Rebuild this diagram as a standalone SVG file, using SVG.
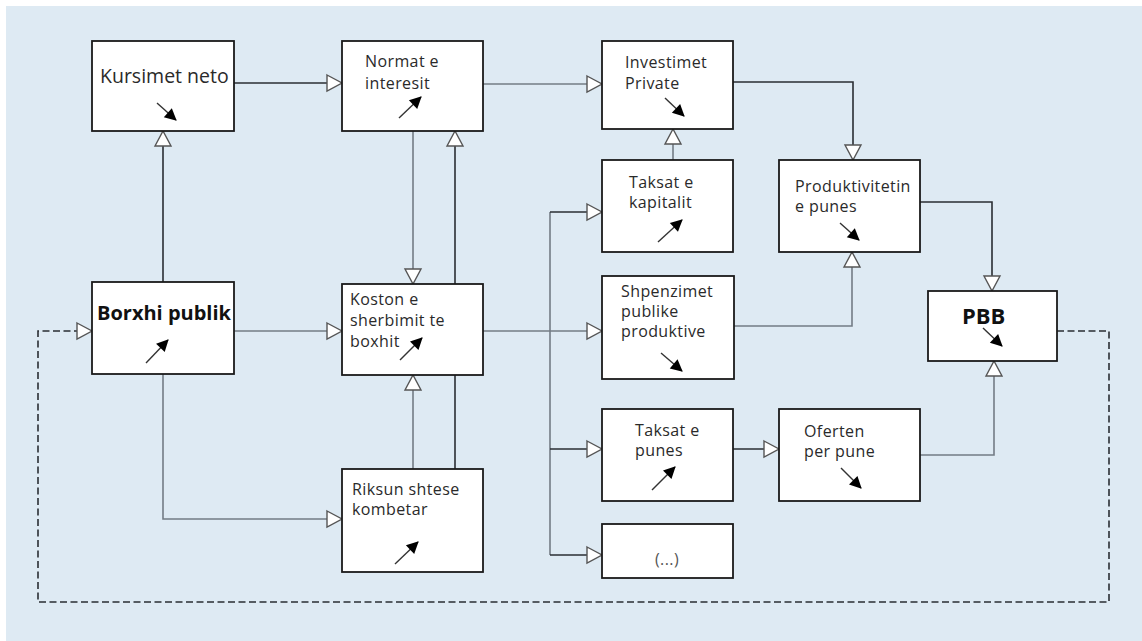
<svg xmlns="http://www.w3.org/2000/svg" width="1142" height="641" viewBox="0 0 1142 641">
<style>
.box{fill:#fff;stroke:#1a1a1a;stroke-width:1.8}
.t{font-family:"Open Sans","Noto Sans",sans-serif;font-size:16px;letter-spacing:0.4px;fill:#2a2a2a}
.tb{font-family:"Open Sans","Noto Sans",sans-serif;font-weight:bold;fill:#111}
.c{fill:none;stroke-width:1.6}
.dk{stroke:#2a2e33}
.gr{stroke:#737c85}
.dash{stroke:#2a2e33;stroke-dasharray:7 3.5}
.tr{stroke:#333;stroke-width:1.4;fill:none;marker-end:url(#tri)}
</style>
<defs>
<marker id="hol" markerUnits="userSpaceOnUse" markerWidth="18" markerHeight="20" refX="16" refY="9" orient="auto" overflow="visible">
<path d="M1,1 L16,9 L1,17 Z" fill="#fff" stroke="#555" stroke-width="1.4"/>
</marker>
<marker id="tri" markerUnits="userSpaceOnUse" markerWidth="14" markerHeight="14" refX="11" refY="6" orient="auto" overflow="visible">
<path d="M0,0 L12,6 L0,12 Z" fill="#000"/>
</marker>
</defs>
<rect x="0" y="0" width="1142" height="641" fill="#fff"/>
<rect x="6" y="6" width="1136" height="635" fill="#deeaf3"/>
<g id="connectors">
<path class="c dk" d="M234,83 H342" marker-end="url(#hol)"/>
<path class="c gr" d="M483,84 H602" marker-end="url(#hol)"/>
<path class="c dk" d="M733,82 H853 V160" marker-end="url(#hol)"/>
<path class="c gr" d="M673,160 V129" marker-end="url(#hol)"/>
<path class="c dk" d="M163,282 V131" marker-end="url(#hol)"/>
<path class="c gr" d="M234,331 H342" marker-end="url(#hol)"/>
<path class="c gr" d="M163,374 V519 H342" marker-end="url(#hol)"/>
<path class="c gr" d="M413,131 V284" marker-end="url(#hol)"/>
<path class="c dk" d="M455,469 V131" marker-end="url(#hol)"/>
<path class="c gr" d="M413,469 V375" marker-end="url(#hol)"/>
<path class="c gr" d="M483,331 H602" marker-end="url(#hol)"/>
<path class="c gr" d="M550,212 V555"/>
<path class="c dk" d="M550,212 H602" marker-end="url(#hol)"/>
<path class="c dk" d="M550,449 H602" marker-end="url(#hol)"/>
<path class="c dk" d="M550,555 H602" marker-end="url(#hol)"/>
<path class="c gr" d="M734,326 H852 V252" marker-end="url(#hol)"/>
<path class="c dk" d="M920,202 H992 V291" marker-end="url(#hol)"/>
<path class="c dk" d="M733,449 H779" marker-end="url(#hol)"/>
<path class="c gr" d="M920,455 H994 V361" marker-end="url(#hol)"/>
<path class="c dash" d="M1057,331 H1109 V602 H38 V331 H92" marker-end="url(#hol)"/>
</g>
<g id="kursimet">
<rect class="box" x="92" y="41" width="142" height="90"/>
<text class="t" x="100" y="83" style="font-size:19.5px;letter-spacing:0">Kursimet neto</text>
<path class="tr" d="M157,103 L176,120"/>
</g>
<g id="normat">
<rect class="box" x="342" y="41" width="141" height="90"/>
<text class="t" x="365" y="67">Normat e</text>
<text class="t" x="365" y="89">interesit</text>
<path class="tr" d="M399,118 L421,97"/>
</g>
<g id="investimet">
<rect class="box" x="602" y="41" width="131" height="88"/>
<text class="t" x="625" y="68">Investimet</text>
<text class="t" x="625" y="89">Private</text>
<path class="tr" d="M665,98 L684,116"/>
</g>
<g id="taksat-kapitalit">
<rect class="box" x="602" y="160" width="131" height="92"/>
<text class="t" x="629" y="188">Taksat e</text>
<text class="t" x="629" y="208">kapitalit</text>
<path class="tr" d="M658,242 L682,220"/>
</g>
<g id="produktivitetin">
<rect class="box" x="779" y="160" width="141" height="92"/>
<text class="t" x="795" y="192">Produktivitetin</text>
<text class="t" x="795" y="212">e punes</text>
<path class="tr" d="M840,223 L859,240"/>
</g>
<g id="borxhi">
<rect class="box" x="92" y="282" width="142" height="92"/>
<text class="tb" x="97" y="320" style="font-size:20px">Borxhi publik</text>
<path class="tr" d="M146,363 L168,340"/>
</g>
<g id="koston">
<rect class="box" x="342" y="284" width="141" height="91"/>
<text class="t" x="350" y="305">Koston e</text>
<text class="t" x="350" y="326">sherbimit te</text>
<text class="t" x="350" y="347">boxhit</text>
<path class="tr" d="M400,360 L422,338"/>
</g>
<g id="shpenzimet">
<rect class="box" x="602" y="276" width="132" height="103"/>
<text class="t" x="621" y="297">Shpenzimet</text>
<text class="t" x="621" y="317">publike</text>
<text class="t" x="621" y="337">produktive</text>
<path class="tr" d="M661,353 L682,371"/>
</g>
<g id="pbb">
<rect class="box" x="928" y="291" width="129" height="70"/>
<text class="tb" x="962" y="324" style="font-size:22px">PBB</text>
<path class="tr" d="M983,328 L1002,346"/>
</g>
<g id="riksun">
<rect class="box" x="342" y="469" width="141" height="103"/>
<text class="t" x="352" y="495">Riksun shtese</text>
<text class="t" x="352" y="515">kombetar</text>
<path class="tr" d="M395,564 L418,542"/>
</g>
<g id="taksat-punes">
<rect class="box" x="602" y="409" width="131" height="92"/>
<text class="t" x="635" y="436">Taksat e</text>
<text class="t" x="635" y="456">punes</text>
<path class="tr" d="M652,490 L675,467"/>
</g>
<g id="oferten">
<rect class="box" x="779" y="409" width="141" height="92"/>
<text class="t" x="804" y="437">Oferten</text>
<text class="t" x="804" y="457">per pune</text>
<path class="tr" d="M841,468 L861,488"/>
</g>
<g id="etc">
<rect class="box" x="602" y="524" width="131" height="54"/>
<text class="t" x="655" y="565" style="fill:#555">(...)</text>
</g>
</svg>
